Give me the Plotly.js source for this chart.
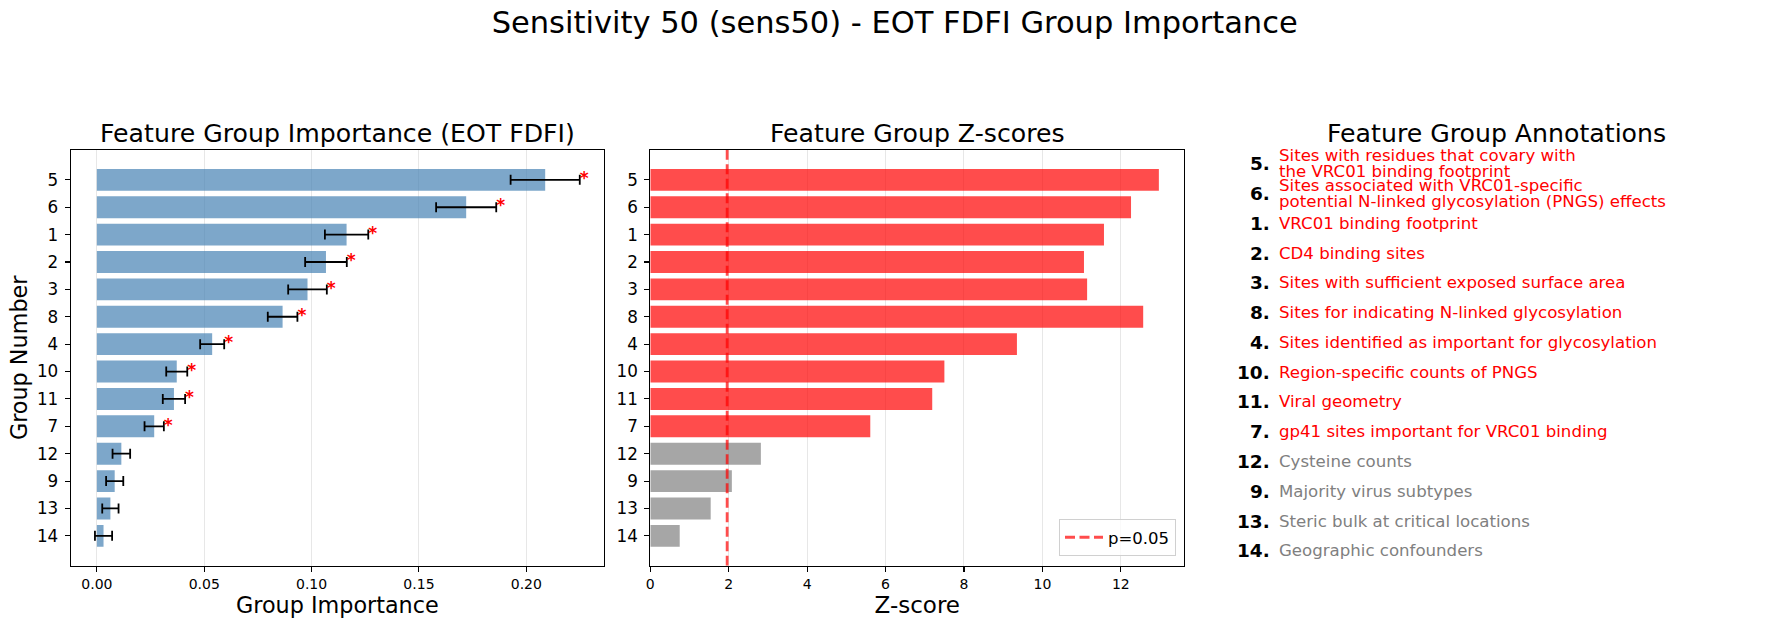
<!DOCTYPE html>
<html>
<head>
<meta charset="utf-8">
<script src="https://cdn.plot.ly/plotly-3.0.1.min.js"></script>
<style>
  html, body { margin: 0; padding: 0; background: #fff; }
  #chart { width: 1773px; height: 628px; }
</style>
</head>
<body>
<div id="chart"></div>
<script>
// Feature groups, ordered by importance (top to bottom)
const groups = ['5', '6', '1', '2', '3', '8', '4', '10', '11', '7', '12', '9', '13', '14'];

// EOT FDFI group importance and its uncertainty
const importance = [0.2088, 0.1720, 0.1163, 0.1067, 0.0981, 0.0865, 0.0537, 0.0372, 0.0359, 0.0267, 0.0114, 0.0083, 0.0063, 0.0031];
const importanceErr = [0.0161, 0.0140, 0.0101, 0.0097, 0.0090, 0.0069, 0.0056, 0.0049, 0.0052, 0.0045, 0.0041, 0.0040, 0.0038, 0.0040];

// Z-scores per group
const zScores = [12.97, 12.26, 11.57, 11.06, 11.14, 12.57, 9.35, 7.50, 7.19, 5.61, 2.82, 2.08, 1.54, 0.75];

// Significance after multiple-testing correction
const significant = [true, true, true, true, true, true, true, true, true, true, false, false, false, false];

// Reference z value for p = 0.05
const zCritical = 1.96;

// Group descriptions (\n marks a line break)
const descriptions = [
  'Sites with residues that covary with\nthe VRC01 binding footprint',
  'Sites associated with VRC01-specific\npotential N-linked glycosylation (PNGS) effects',
  'VRC01 binding footprint',
  'CD4 binding sites',
  'Sites with sufficient exposed surface area',
  'Sites for indicating N-linked glycosylation',
  'Sites identified as important for glycosylation',
  'Region-specific counts of PNGS',
  'Viral geometry',
  'gp41 sites important for VRC01 binding',
  'Cysteine counts',
  'Majority virus subtypes',
  'Steric bulk at critical locations',
  'Geographic confounders'
];

const FONT = 'DejaVu Sans, Liberation Sans, sans-serif';
const W = 1773, H = 628;
const px = v => v / W;            // horizontal pixel -> paper
const py = v => 1 - v / H;        // vertical pixel (from top) -> paper

const pos = groups.map((_, i) => i);

// y range as matplotlib would pick for horizontal bars of height 0.8
const n = groups.length;
const yPad = 0.05 * (n - 1 + 0.8);
const yRange = [n - 1 + 0.4 + yPad, -0.4 - yPad];

const blue = 'rgba(70,130,180,0.7)';
const redA = 'rgba(255,0,0,0.7)';
const grayA = 'rgba(128,128,128,0.7)';

const traces = [
  {
    type: 'bar', orientation: 'h',
    x: importance, y: pos, width: 0.8,
    marker: { color: blue },
    error_x: { type: 'data', array: importanceErr, visible: true, color: 'black', thickness: 1.8, width: 5 },
    xaxis: 'x', yaxis: 'y', showlegend: false, hoverinfo: 'x+y'
  },
  {
    type: 'scatter', mode: 'text',
    x: importance.map((v, i) => v + importanceErr[i]).filter((_, i) => significant[i]),
    y: pos.filter((_, i) => significant[i]),
    text: pos.filter((_, i) => significant[i]).map(() => '*'),
    textposition: 'middle right',
    textfont: { color: 'red', size: 17, family: FONT, weight: 'bold' },
    xaxis: 'x', yaxis: 'y', showlegend: false, hoverinfo: 'skip'
  },
  {
    type: 'bar', orientation: 'h',
    x: zScores, y: pos, width: 0.8,
    marker: { color: significant.map(s => s ? redA : grayA) },
    xaxis: 'x2', yaxis: 'y2', showlegend: false, hoverinfo: 'x+y'
  },
  {
    type: 'scatter', mode: 'lines',
    x: [zCritical, zCritical], y: yRange,
    line: { color: redA, width: 2.8, dash: '10px,4.5px' },
    name: 'p=0.05',
    xaxis: 'x2', yaxis: 'y2', showlegend: true, hoverinfo: 'skip'
  }
];

// Axes frame geometry (pixels)
const L1 = 70.7, R1 = 604, L2 = 650.3, R2 = 1184.3, TOP = 150, BOT = 565.7;

const commonX = {
  showline: true, mirror: true, linecolor: 'black', linewidth: 1.1,
  ticks: 'outside', ticklen: 5, tickwidth: 1.1, tickcolor: 'black',
  tickfont: { family: FONT, size: 14, color: 'black' },
  showgrid: true, gridcolor: 'rgba(176,176,176,0.3)', gridwidth: 1,
  zeroline: false, fixedrange: true
};
const commonY = {
  showline: true, mirror: true, linecolor: 'black', linewidth: 1.1,
  ticks: 'outside', ticklen: 5, tickwidth: 1.1, tickcolor: 'black',
  tickfont: { family: FONT, size: 16.8, color: 'black' },
  ticklabelstandoff: 3,
  tickmode: 'array', tickvals: pos, ticktext: groups,
  range: yRange, showgrid: false, zeroline: false, fixedrange: true,
  domain: [py(BOT), py(TOP)]
};

// Error-bar aware x range for the importance panel
const lo = Math.min(0, ...importance.map((v, i) => v - importanceErr[i]));
const hi = Math.max(...importance.map((v, i) => v + importanceErr[i]));
const span1 = hi - lo;
const zMax = Math.max(...zScores);

const layout = {
  width: W, height: H,
  margin: { l: 0, r: 0, t: 0, b: 0 },
  paper_bgcolor: 'white', plot_bgcolor: 'white',
  font: { family: FONT, color: 'black' },
  title: {
    text: 'Sensitivity 50 (sens50) - EOT FDFI Group Importance',
    font: { family: FONT, size: 30.5, color: 'black' },
    x: px(894.7), xanchor: 'center', xref: 'paper',
    y: py(22), yanchor: 'middle', yref: 'container'
  },
  xaxis: Object.assign({}, commonX, {
    domain: [px(L1), px(R1)], anchor: 'y',
    range: [lo - 0.05 * span1, hi + 0.05 * span1],
    tick0: 0, dtick: 0.05, tickformat: '.2f',
    title: { text: 'Group Importance', font: { family: FONT, size: 22.3 }, standoff: 6 }
  }),
  yaxis: Object.assign({}, commonY, {
    anchor: 'x',
    title: { text: 'Group Number', font: { family: FONT, size: 22.3 }, standoff: 3 }
  }),
  xaxis2: Object.assign({}, commonX, {
    domain: [px(L2), px(R2)], anchor: 'y2',
    range: [0, zMax * 1.05],
    tick0: 0, dtick: 2, tickformat: 'd',
    title: { text: 'Z-score', font: { family: FONT, size: 23 }, standoff: 6 }
  }),
  yaxis2: Object.assign({}, commonY, { anchor: 'x2' }),
  // hidden axis holding the annotation list
  xaxis3: { domain: [px(1230), px(1770)], range: [0, 1], visible: false, anchor: 'y3', fixedrange: true },
  yaxis3: { domain: [py(BOT), py(TOP)], range: [13.5, -0.464], visible: false, anchor: 'x3', fixedrange: true },
  showlegend: true,
  legend: {
    x: px(1176), xanchor: 'right', y: py(556), yanchor: 'bottom',
    bgcolor: 'rgba(255,255,255,0.8)', bordercolor: '#d0d0d0', borderwidth: 1,
    font: { family: FONT, size: 16.5, color: 'black' },
    itemwidth: 38
  },
  annotations: []
};

// Panel titles
const panelTitles = [
  ['Feature Group Importance (EOT FDFI)', (L1 + R1) / 2],
  ['Feature Group Z-scores', (L2 + R2) / 2],
  ['Feature Group Annotations', 1496.5]
];
panelTitles.forEach(([t, cx]) => {
  layout.annotations.push({
    text: t, showarrow: false, xref: 'paper', yref: 'paper',
    x: px(cx), y: py(133.7), xanchor: 'center', yanchor: 'middle',
    font: { family: FONT, size: 25.2, color: 'black' }
  });
});

// Numbered group descriptions
const LINE_GAP = 15.7;
groups.forEach((g, i) => {
  const col = significant[i] ? 'red' : 'gray';
  layout.annotations.push({
    text: '<b>' + g + '.</b>', showarrow: false, xref: 'paper', yref: 'y3',
    x: px(1272), y: i, xanchor: 'right', yanchor: 'middle',
    font: { family: FONT, size: 18.5, color: 'black' }
  });
  const lines = descriptions[i].split('\n');
  lines.forEach((ln, j) => {
    layout.annotations.push({
      text: ln, showarrow: false, xref: 'paper', yref: 'y3',
      x: px(1277), y: i, xanchor: 'left', yanchor: 'middle',
      yshift: ((lines.length - 1) / 2 - j) * LINE_GAP,
      font: { family: FONT, size: 16.6, color: col }
    });
  });
});

Plotly.newPlot('chart', traces, layout, { displayModeBar: false, staticPlot: true });
</script>
</body>
</html>
